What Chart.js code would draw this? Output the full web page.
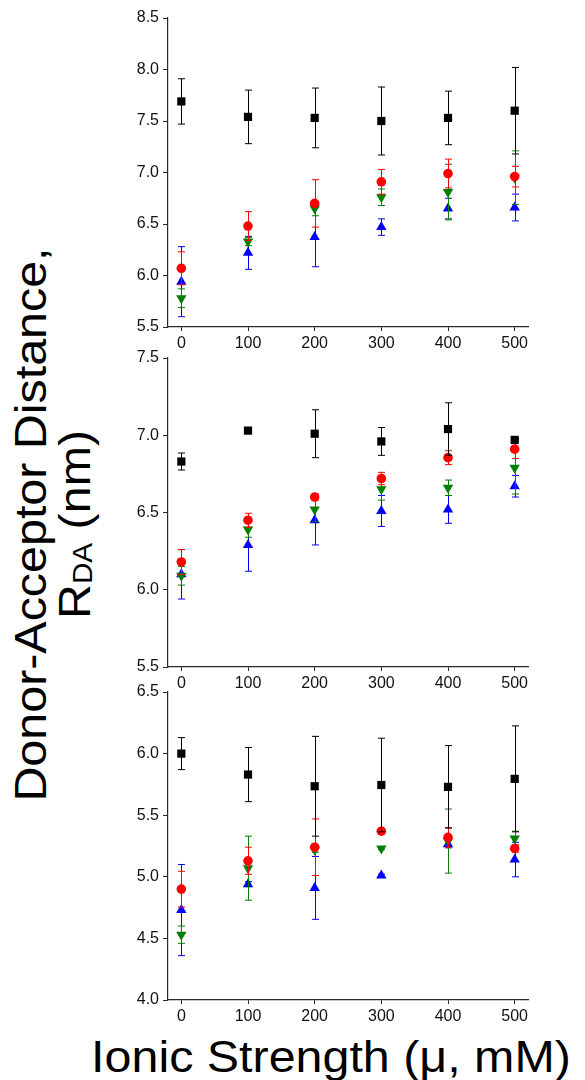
<!DOCTYPE html>
<html>
<head>
<meta charset="utf-8">
<script src="https://cdn.jsdelivr.net/npm/chart.js@4.4.1/dist/chart.umd.min.js"></script>
<style>
  html, body { margin: 0; padding: 0; background: #fff; overflow: hidden; }
  body { width: 585px; height: 1080px; position: relative; font-family: "Liberation Sans", Arial, sans-serif; }
  .panel { position: absolute; left: 120px; width: 420px; }
  #ytitle {
    position: absolute; left: -298.5px; top: 480.5px; width: 700px; height: 87px;
    font-size: 44px; line-height: 43.5px; text-align: center; color: #000;
    transform: rotate(-90deg) scaleX(1.1); white-space: nowrap;
  }
  #ytitle sub { font-size: 27px; vertical-align: baseline; position: relative; top: 2px; }
  #xtitle {
    position: absolute; left: 331px; top: 1034.5px; transform: translateX(-50%) scaleX(1.1);
    font-size: 44px; line-height: 44px; white-space: nowrap; color: #000;
  }
</style>
</head>
<body>
<div class="panel" style="top:0px;height:352px"><canvas id="c1" width="420" height="352"></canvas></div>
<div class="panel" style="top:340px;height:352px"><canvas id="c2" width="420" height="352"></canvas></div>
<div class="panel" style="top:674px;height:351px"><canvas id="c3" width="420" height="351"></canvas></div>
<div id="ytitle">Donor-Acceptor Distance,<br>R<sub>DA</sub> (nm)</div>
<div id="xtitle">Ionic Strength (μ, mM)</div>
<script>
// ionic strength (mM)
const ionic = [0, 100, 200, 300, 400, 500];
const xTicks = [0, 100, 200, 300, 400, 500];

// top panel
const p1Black = [7.69, 7.54, 7.53, 7.50, 7.53, 7.60];
const p1BlackErr = [0.22, 0.26, 0.29, 0.33, 0.26, 0.42];
const p1Red = [6.07, 6.48, 6.70, 6.91, 6.99, 6.96];
const p1RedErr = [0.16, 0.14, 0.23, 0.12, 0.14, 0.10];
const p1Green = [5.78, 6.33, 6.65, 6.76, 6.81, 6.95];
const p1GreenErr = [0.09, 0.04, 0.07, 0.08, 0.27, 0.26];
const p1Blue = [5.94, 6.22, 6.375, 6.47, 6.65, 6.66];
const p1BlueErr = [0.34, 0.16, 0.29, 0.08, 0.10, 0.13];
const p1Ticks = [5.5, 6.0, 6.5, 7.0, 7.5, 8.0, 8.5];

// middle panel
const p2Black = [6.83, 7.03, 7.01, 6.96, 7.04, 6.97];
const p2BlackErr = [0.055, 0.01, 0.155, 0.09, 0.17, 0.01];
const p2Red = [6.18, 6.45, 6.60, 6.72, 6.855, 6.91];
const p2RedErr = [0.08, 0.045, 0.02, 0.04, 0.045, 0.06];
const p2Green = [6.09, 6.39, 6.52, 6.65, 6.66, 6.79];
const p2GreenErr = [0.06, 0.05, 0.08, 0.07, 0.05, 0.17];
const p2Blue = [6.10, 6.29, 6.45, 6.51, 6.52, 6.67];
const p2BlueErr = [0.16, 0.17, 0.16, 0.10, 0.09, 0.07];
const p2Ticks = [5.5, 6.0, 6.5, 7.0, 7.5];

// bottom panel
const p3Black = [6.00, 5.83, 5.735, 5.745, 5.73, 5.795];
const p3BlackErr = [0.13, 0.22, 0.405, 0.38, 0.335, 0.43];
const p3Red = [4.90, 5.13, 5.24, 5.37, 5.32, 5.23];
const p3RedErr = [0.145, 0.11, 0.23, 0.02, 0.08, 0.03];
const p3Green = [4.53, 5.07, 5.22, 5.23, 5.29, 5.31];
const p3GreenErr = [0.07, 0.26, 0.02, 0.01, 0.26, 0.06];
const p3Blue = [4.73, 4.94, 4.91, 5.01, 5.265, 5.14];
const p3BlueErr = [0.37, 0.02, 0.255, 0.01, 0.03, 0.14];
const p3Ticks = [4.0, 4.5, 5.0, 5.5, 6.0, 6.5];

const FONT = "'Liberation Sans', Arial, sans-serif";
const AXIS = '#2a2a2a';

// draws vertical error bars with caps after each dataset
const errorBars = {
  id: 'errorBars',
  afterDatasetDraw(chart, args) {
    const ds = chart.data.datasets[args.index];
    if (!ds.errors) return;
    const ctx = chart.ctx;
    const y = chart.scales.y;
    ctx.save();
    ctx.strokeStyle = ds.barColor;
    ctx.lineWidth = 1;
    args.meta.data.forEach((pt, i) => {
      const v = ds.data[i].y, e = ds.errors[i];
      const x = Math.round(pt.x) + 0.5;
      const top = y.getPixelForValue(v + e);
      const bot = y.getPixelForValue(v - e);
      ctx.beginPath();
      ctx.moveTo(x, top); ctx.lineTo(x, bot);
      ctx.moveTo(x - 3.5, top); ctx.lineTo(x + 3.5, top);
      ctx.moveTo(x - 3.5, bot); ctx.lineTo(x + 3.5, bot);
      ctx.stroke();
    });
    ctx.restore();
  }
};

function series(vals, errs, color, style, radius, rotation) {
  return {
    data: ionic.map((x, i) => ({ x: x, y: vals[i] })),
    errors: errs,
    barColor: color,
    backgroundColor: color,
    borderColor: color,
    pointStyle: style,
    pointRadius: radius,
    pointRotation: rotation || 0,
    pointBorderWidth: 0,
    showLine: false
  };
}

function makePanel(id, sets, yMin, yMax, yTicks, plotTop, xHeight) {
  new Chart(document.getElementById(id), {
    type: 'scatter',
    data: { datasets: sets },
    options: {
      responsive: false,
      animation: false,
      events: [],
      layout: { padding: { top: plotTop, right: 12, left: 0, bottom: 0 } },
      plugins: { legend: { display: false }, tooltip: { enabled: false } },
      scales: {
        x: {
          type: 'linear', min: -20, max: 520,
          afterBuildTicks: s => { s.ticks = xTicks.map(v => ({ value: v })); },
          afterFit: s => { s.height = xHeight; },
          border: { display: true, color: AXIS, width: 1.2 },
          grid: { display: true, drawOnChartArea: false, drawTicks: true, tickLength: 4, color: AXIS },
          ticks: { color: '#111', padding: 3, font: { family: FONT, size: 16 }, maxRotation: 0 }
        },
        y: {
          type: 'linear', min: yMin, max: yMax,
          afterBuildTicks: s => { s.ticks = yTicks.map(v => ({ value: v })); },
          afterFit: s => { s.width = 48; },
          border: { display: true, color: AXIS, width: 1.2 },
          grid: { display: true, drawOnChartArea: false, drawTicks: true, tickLength: 5, color: AXIS },
          ticks: { color: '#111', padding: 4, font: { family: FONT, size: 16 }, callback: v => Number(v).toFixed(1) }
        }
      }
    },
    plugins: [errorBars]
  });
}

makePanel('c1', [
  series(p1Black, p1BlackErr, '#000000', 'rect', 5.8),
  series(p1Red, p1RedErr, '#ff0000', 'circle', 4.8),
  series(p1Green, p1GreenErr, '#007f00', 'triangle', 6, 180),
  series(p1Blue, p1BlueErr, '#0000ff', 'triangle', 6)
], 5.5, 8.5, p1Ticks, 18, 25);

makePanel('c2', [
  series(p2Black, p2BlackErr, '#000000', 'rect', 5.8),
  series(p2Red, p2RedErr, '#ff0000', 'circle', 4.8),
  series(p2Green, p2GreenErr, '#007f00', 'triangle', 6, 180),
  series(p2Blue, p2BlueErr, '#0000ff', 'triangle', 6)
], 5.5, 7.5, p2Ticks, 18, 25);

makePanel('c3', [
  series(p3Black, p3BlackErr, '#000000', 'rect', 5.8),
  series(p3Red, p3RedErr, '#ff0000', 'circle', 4.8),
  series(p3Green, p3GreenErr, '#007f00', 'triangle', 6, 180),
  series(p3Blue, p3BlueErr, '#0000ff', 'triangle', 6)
], 4.0, 6.5, p3Ticks, 18, 25);
</script>
</body>
</html>
